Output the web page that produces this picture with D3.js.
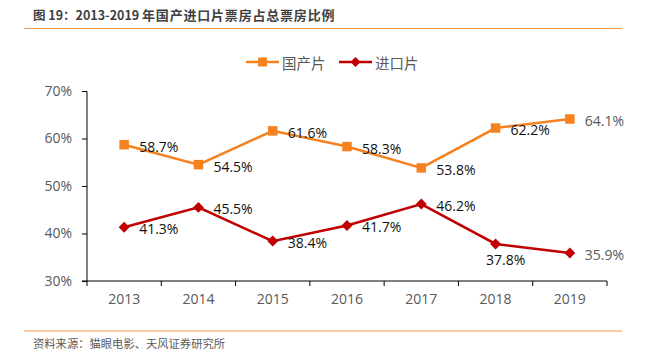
<!DOCTYPE html>
<html>
<head>
<meta charset="utf-8">
<script src="https://cdn.jsdelivr.net/npm/d3@7"></script>
<style>
  html, body { margin: 0; padding: 0; background: #fff; }
  svg { display: block; }
</style>
</head>
<body>
<svg id="chart" width="649" height="356"></svg>
<script>
const titlePrefix = "图 19：2013-2019 ";
const titleMain = "年国产进口片票房占总票房比例";
const sourceText = "资料来源：猫眼电影、天风证券研究所";
const years = ["2013", "2014", "2015", "2016", "2017", "2018", "2019"];
const seriesNames = ["国产片", "进口片"];
const domestic = [58.7, 54.5, 61.6, 58.3, 53.8, 62.2, 64.1];
const imported = [41.3, 45.5, 38.4, 41.7, 46.2, 37.8, 35.9];
const yTicks = [30, 40, 50, 60, 70];

const svg = d3.select("#chart");
const font = "'Open Sans', 'Noto Sans', 'Noto Sans CJK SC', sans-serif";
const cjk = "'Noto Sans CJK SC', sans-serif";
const orange = "#F5821F";
const red = "#C00000";
const grey = "#595959";

// custom square-diamond symbol
const diamond = {
  draw(ctx, size) {
    const r = Math.sqrt(size / 2);
    ctx.moveTo(0, -r); ctx.lineTo(r, 0); ctx.lineTo(0, r); ctx.lineTo(-r, 0); ctx.closePath();
  }
};

// Title and rules
const title = svg.append("text").attr("x", 33).attr("y", 20)
  .attr("font-family", cjk).attr("font-weight", "bold").attr("font-size", 13)
  .attr("fill", "#404040");
title.append("tspan").attr("font-size", 12.5).text(titlePrefix);
title.append("tspan").attr("letter-spacing", 0.8).text(titleMain);
svg.append("line").attr("x1", 24).attr("x2", 622).attr("y1", 28.5).attr("y2", 28.5)
  .attr("stroke", "#F79646").attr("stroke-width", 1.2);
svg.append("line").attr("x1", 24).attr("x2", 622).attr("y1", 331).attr("y2", 331)
  .attr("stroke", "#F79646").attr("stroke-width", 1.2);
svg.append("text").attr("x", 33).attr("y", 348)
  .attr("font-family", cjk).attr("font-size", 11.3)
  .attr("fill", grey).text(sourceText);

// Scales
const x = d3.scaleBand().domain(years).range([87, 607]);
const y = d3.scaleLinear().domain([30, 70]).range([281, 91]);

// Y axis
const yAxis = svg.append("g").attr("transform", "translate(87,0)")
  .call(d3.axisLeft(y).tickValues(yTicks).tickFormat(d => d + "%").tickSize(5).tickPadding(10));
yAxis.select(".domain").attr("stroke", "#000").attr("d", "M-5,91.5H0V281");
yAxis.selectAll(".tick line").attr("stroke", "#000");
yAxis.selectAll("text").attr("font-family", font).attr("font-size", 14).attr("fill", grey);

// X axis
const xAxis = svg.append("g").attr("transform", "translate(0,281)")
  .call(d3.axisBottom(x).tickSize(0).tickPadding(13));
xAxis.select(".domain").attr("stroke", "#000").attr("d", "M82,0H607");
xAxis.selectAll("text").attr("font-family", font).attr("font-size", 14).attr("fill", grey);
const bounds = years.map(d => x(d)).concat([x(years[years.length - 1]) + x.bandwidth()]);
xAxis.selectAll(".bt").data(bounds).enter().append("line")
  .attr("x1", d => d).attr("x2", d => d).attr("y1", 0).attr("y2", 5)
  .attr("stroke", "#000");

const cx = d => x(d) + x.bandwidth() / 2;
const line = d3.line().x((d, i) => cx(years[i])).y(d => y(d));

// Series
const series = [
  { name: seriesNames[0], values: domestic, color: orange, symbol: d3.symbolSquare, size: 90 },
  { name: seriesNames[1], values: imported, color: red, symbol: diamond, size: 60 }
];
series.forEach(s => {
  svg.append("path").datum(s.values).attr("d", line)
    .attr("fill", "none").attr("stroke", s.color).attr("stroke-width", 2.5);
  svg.selectAll(null).data(s.values).enter().append("path")
    .attr("d", d3.symbol().type(s.symbol).size(s.size))
    .attr("transform", (d, i) => `translate(${cx(years[i])},${y(d)})`)
    .attr("fill", s.color);
});

// Labels
function addLabels(vals, belowIdx) {
  svg.selectAll(null).data(vals).enter().append("text")
    .attr("x", (d, i) => i === belowIdx ? cx(years[i]) + 10 : cx(years[i]) + 15)
    .attr("y", (d, i) => i === belowIdx ? y(d) + 16 : y(d) + 1.5)
    .attr("text-anchor", (d, i) => i === belowIdx ? "middle" : "start")
    .attr("dominant-baseline", "central")
    .attr("font-family", font).attr("font-size", 14)
    .attr("fill", (d, i) => i === vals.length - 1 ? grey : "#111")
    .text(d => d.toFixed(1) + "%");
}
addLabels(domestic, -1);
addLabels(imported, 5);

// Legend
const legend = [
  { name: seriesNames[0], color: orange, symbol: d3.symbolSquare, size: 80, x0: 246 },
  { name: seriesNames[1], color: red, symbol: diamond, size: 50, x0: 339 }
];
legend.forEach(l => {
  svg.append("line").attr("x1", l.x0).attr("x2", l.x0 + 33).attr("y1", 62).attr("y2", 62)
    .attr("stroke", l.color).attr("stroke-width", 2.5);
  svg.append("path").attr("d", d3.symbol().type(l.symbol).size(l.size))
    .attr("transform", `translate(${l.x0 + 16.5},62)`).attr("fill", l.color);
  svg.append("text").attr("x", l.x0 + 36).attr("y", 62).attr("dominant-baseline", "central")
    .attr("font-family", cjk).attr("font-size", 14.5).attr("fill", grey).text(l.name);
});
</script>
</body>
</html>
